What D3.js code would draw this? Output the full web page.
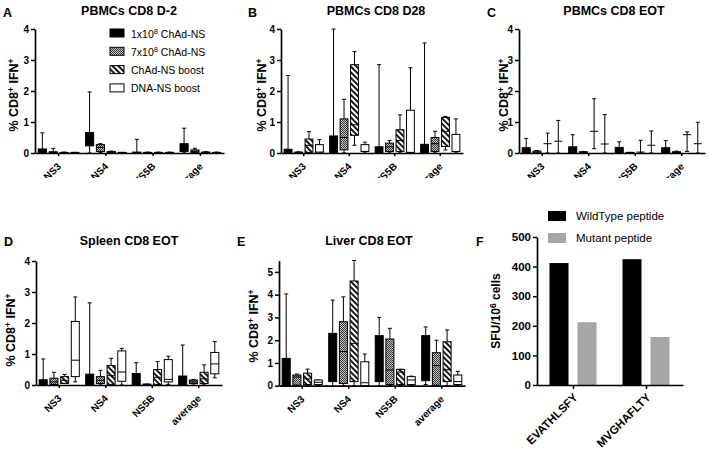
<!DOCTYPE html>
<html><head><meta charset="utf-8">
<script src="https://cdn.jsdelivr.net/npm/d3@7"></script>
<style>
body{margin:0;background:#fff;}
svg{display:block;font-family:"Liberation Sans",Arial,sans-serif;}
</style></head><body>
<svg id="chart" width="709" height="450"></svg>
<script>
// ---------------- DATA ----------------
const groups = ["NS3", "NS4", "NS5B", "average"];
// legend labels: [base, superscript, rest]
const seriesLabels = [["1x10", "8", " ChAd-NS"], ["7x10", "8", " ChAd-NS"], ["ChAd-NS boost", "", ""], ["DNA-NS boost", "", ""]];
// each entry per group: [min, q1, median, q3, max]
const A_low   = [[0,0,0.05,0.13,0.65],[0,0.23,0.45,0.66,1.97],[0,0,0.01,0.03,0.44],[0,0.05,0.15,0.3,0.8]];
const A_high  = [[0,0,0.02,0.04,0.15],[0.02,0.05,0.18,0.27,0.3],[0,0,0.01,0.02,0.03],[0.01,0.02,0.05,0.1,0.15]];
const A_boost = [[0,0,0.01,0.02,0.03],[0,0.01,0.03,0.05,0.06],[0,0,0.01,0.02,0.03],[0,0.01,0.02,0.03,0.04]];
const A_dna   = [[0,0,0.01,0.02,0.02],[0,0,0.01,0.02,0.02],[0,0,0.01,0.02,0.03],[0,0,0.01,0.02,0.03]];

const B_low   = [[0,0,0.05,0.12,2.5],[0,0,0.3,0.55,4.0],[0,0,0.1,0.2,2.85],[0,0,0.1,0.28,3.55]];
const B_high  = [[0,0,0.01,0.03,0.04],[0,0.1,0.5,1.1,1.73],[0,0.05,0.2,0.32,0.4],[0,0.05,0.3,0.5,0.7]];
const B_boost = [[0,0.02,0.25,0.45,0.69],[0.25,0.57,0.91,2.85,3.27],[0,0.05,0.4,0.75,1.23],[0.1,0.21,0.7,1.15,1.18]];
const B_dna   = [[0,0,0.03,0.27,0.43],[0,0.05,0.05,0.27,0.35],[0,0,0.02,1.38,2.75],[0,0.05,0.05,0.6,1.1]];

const C_low   = [[0,0,0.08,0.17,0.47],[0,0,0.1,0.2,0.59],[0,0,0.08,0.18,0.36],[0,0,0.08,0.17,0.4]];
const C_high  = [[0,0,0.03,0.06,0.08],[0,0,0.02,0.04,0.05],[0,0,0.01,0.02,0.02],[0,0,0.02,0.04,0.06]];
const C_boost = [[0,0.3,0.3,0.3,0.64],[0.14,0.7,0.7,0.7,1.75],[0,0.03,0.03,0.03,0.41],[0.05,0.59,0.59,0.59,0.68]];
const C_dna   = [[0,0.38,0.38,0.38,1.05],[0,0.29,0.29,0.29,1.24],[0,0.25,0.25,0.25,0.71],[0,0.3,0.3,0.3,0.99]];

const D_low   = [[0,0,0.08,0.17,0.84],[0,0,0.15,0.35,2.65],[0,0,0.15,0.37,0.72],[0,0,0.1,0.29,1.29]];
const D_high  = [[0,0.02,0.1,0.22,0.41],[0,0.05,0.15,0.27,0.47],[0,0,0.01,0.03,0.03],[0.03,0.05,0.1,0.16,0.18]];
const D_boost = [[0.05,0.05,0.15,0.27,0.34],[0,0.02,0.3,0.63,0.86],[0,0.02,0.25,0.5,0.76],[0,0.05,0.2,0.41,0.65]];
const D_dna   = [[0.1,0.27,0.8,2.05,2.84],[0,0.12,0.42,1.1,1.18],[0.02,0.1,0.18,0.82,0.93],[0.23,0.36,0.68,1.05,1.4]];

const E_low   = [[0,0,0.5,1.2,4.03],[0,0.18,1.0,2.3,3.76],[0,0.18,1.0,2.2,3.0],[0.05,0.22,1.0,2.2,2.58]];
const E_high  = [[0,0.03,0.38,0.47,0.51],[0,0.1,1.5,2.81,3.9],[0,0.05,0.69,2.05,2.52],[0,0.02,0.88,1.45,2.0]];
const E_boost = [[0,0.05,0.3,0.55,0.73],[0,0.18,1.86,4.6,5.5],[0,0.05,0.6,0.72,0.72],[0,0.18,0.7,1.93,2.45]];
const E_dna   = [[0,0.05,0.15,0.25,0.25],[0,0,0.13,1.05,1.39],[0,0.05,0.25,0.4,0.42],[0,0.05,0.18,0.47,0.63]];

const peptides = ["EVATHLSFY", "MVGHAFLTY"];
const peptideSeries = ["WildType peptide", "Mutant peptide"];
const wildType = [412, 425];
const mutant = [212, 162];
const ticks4 = [0, 1, 2, 3, 4];
const ticks5 = [0, 1, 2, 3, 4, 5];
const ticksF = [0, 100, 200, 300, 400, 500];

// ---------------- DRAW ----------------
const svg = d3.select("#chart");
const defs = svg.append("defs");
const pc = defs.append("pattern").attr("id", "check").attr("patternUnits", "userSpaceOnUse").attr("width", 2).attr("height", 2);
pc.append("rect").attr("width", 2).attr("height", 2).attr("fill", "#c4c4c4");
pc.append("rect").attr("width", 1).attr("height", 1).attr("fill", "#3a3a3a");
pc.append("rect").attr("x", 1).attr("y", 1).attr("width", 1).attr("height", 1).attr("fill", "#3a3a3a");
const ph = defs.append("pattern").attr("id", "hatch").attr("patternUnits", "userSpaceOnUse").attr("width", 4).attr("height", 4).attr("patternTransform", "rotate(-45)");
ph.append("rect").attr("width", 4).attr("height", 4).attr("fill", "#fff");
ph.append("line").attr("x1", 1).attr("y1", 0).attr("x2", 1).attr("y2", 4).attr("stroke", "#000").attr("stroke-width", 1.8);

const fills = ["#000", "url(#check)", "url(#hatch)", "#fff"];
const FONT = "Liberation Sans, Arial, sans-serif";

function yLabel(g, x, y, parts) {
  const t = g.append("text").attr("transform", `translate(${x},${y}) rotate(-90)`)
    .attr("text-anchor", "middle").attr("font-weight", "bold").attr("font-size", 12.5).attr("dy", "0.35em");
  parts.forEach(p => {
    const ts = t.append("tspan").text(p[0]);
    if (p[1]) { ts.attr("font-size", 8.5).attr("dy", -4.5); }
    else if (p[2]) { ts.attr("dy", 4.5); }
  });
}

function titles(letter, lx, ly, title, tx, ty) {
  svg.append("text").attr("x", lx).attr("y", ly).attr("font-weight", "bold").attr("font-size", 12.5).text(letter);
  if (title) svg.append("text").attr("x", tx).attr("y", ty).attr("text-anchor", "middle").attr("font-weight", "bold").attr("font-size", 12.5).text(title);
}

let clipId = 0;
function boxPanel(cfg) {
  const g = svg.append("g");
  const x = d3.scaleBand().domain(groups).range([cfg.x0, cfg.x1]);
  const inner = d3.scaleBand().domain(d3.range(4)).range([0, x.bandwidth()]).paddingInner(0.25).paddingOuter(0.3);
  const y = d3.scaleLinear().domain([0, cfg.max]).range([cfg.yBot, cfg.yTop]);
  const bw = inner.bandwidth();
  cfg.data.forEach((arr, si) => {
    arr.forEach((v, gi) => {
      const cx = x(groups[gi]) + inner(si) + bw / 2;
      const [mn, q1, md, q3, mx] = v;
      const bg = g.append("g").attr("stroke", "#000").attr("stroke-width", 1);
      bg.append("line").attr("x1", cx).attr("x2", cx).attr("y1", y(mn)).attr("y2", y(mx));
      bg.append("line").attr("x1", cx - 2).attr("x2", cx + 2).attr("y1", y(mx)).attr("y2", y(mx));
      bg.append("line").attr("x1", cx - 2).attr("x2", cx + 2).attr("y1", y(mn)).attr("y2", y(mn));
      bg.append("rect").attr("x", cx - bw / 2).attr("width", bw).attr("y", y(q3)).attr("height", Math.max(0, y(q1) - y(q3)))
        .attr("fill", fills[si]);
      bg.append("line").attr("x1", cx - bw / 2).attr("x2", cx + bw / 2).attr("y1", y(md)).attr("y2", y(md));
    });
  });
  const ya = g.append("g").attr("transform", `translate(${cfg.x0},0)`)
    .call(d3.axisLeft(y).tickValues(cfg.ticks).tickSize(4).tickSizeOuter(0).tickFormat(d3.format("d")));
  const xa = g.append("g").attr("transform", `translate(0,${cfg.yBot})`)
    .call(d3.axisBottom(x).tickSize(3).tickSizeOuter(0));
  [ya, xa].forEach(a => {
    a.select(".domain").attr("stroke-width", 1.7);
    a.selectAll(".tick line").attr("stroke-width", 1.5);
    a.selectAll("text").attr("font-weight", "bold").attr("font-size", 10).attr("font-family", FONT).attr("fill", "#000");
  });
  ya.selectAll(".tick text").attr("x", -6);
  xa.selectAll(".tick text").attr("text-anchor", "end").attr("x", 0).attr("y", 0).attr("dy", 0)
    .attr("transform", "translate(3,14) rotate(-45)");
  if (cfg.clipY) {
    const id = "clip" + (clipId++);
    defs.append("clipPath").attr("id", id).append("rect")
      .attr("x", cfg.x0 - 60).attr("y", -10).attr("width", 320).attr("height", cfg.clipY - cfg.yBot + 10);
    xa.attr("clip-path", `url(#${id})`);
  }
  yLabel(svg, cfg.labX, cfg.labY, [["% CD8"], ["+", 1], [" IFN", 0, 1], ["+", 1]]);
  return { x, y };
}

titles("A", 3, 17, "PBMCs CD8 D-2", 129, 15);
boxPanel({ data: [A_low, A_high, A_boost, A_dna], x0: 35, x1: 224, yTop: 29, yBot: 153, max: 4, ticks: ticks4, clipY: 178, labX: 14, labY: 95 });
titles("B", 248, 17, "PBMCs CD8 D28", 376, 15);
boxPanel({ data: [B_low, B_high, B_boost, B_dna], x0: 281, x1: 463, yTop: 29, yBot: 153, max: 4, ticks: ticks4, clipY: 178, labX: 262, labY: 95 });
titles("C", 487, 17, "PBMCs CD8 EOT", 614, 15);
boxPanel({ data: [C_low, C_high, C_boost, C_dna], x0: 519, x1: 705, yTop: 29, yBot: 153, max: 4, ticks: ticks4, clipY: 178, labX: 504, labY: 95 });
titles("D", 4, 246, "Spleen CD8 EOT", 129, 245);
boxPanel({ data: [D_low, D_high, D_boost, D_dna], x0: 36, x1: 222, yTop: 261, yBot: 385, max: 4, ticks: ticks4, labX: 11, labY: 330 });
titles("E", 237, 246, "Liver CD8 EOT", 369, 245);
boxPanel({ data: [E_low, E_high, E_boost, E_dna], x0: 279, x1: 465, yTop: 260.5, yBot: 385.7, max: 5.5, ticks: ticks5, labX: 254, labY: 326 });

// legend A
const lg = svg.append("g");
seriesLabels.forEach((s, i) => {
  const yy = 29 + i * 18.3;
  lg.append("rect").attr("x", 110).attr("y", yy).attr("width", 14).attr("height", 8).attr("fill", fills[i]).attr("stroke", "#000").attr("stroke-width", 1);
  const t = lg.append("text").attr("x", 131).attr("y", yy + 8.5).attr("font-size", 10.5);
  t.append("tspan").text(s[0]);
  if (s[1]) { t.append("tspan").attr("font-size", 7.5).attr("dy", -4).text(s[1]); t.append("tspan").attr("dy", 4).text(s[2]); }
});

// panel F
titles("F", 476, 246, "", 0, 0);
const fx = d3.scaleBand().domain(peptides).range([537, 683]);
const fy = d3.scaleLinear().domain([0, 500]).range([385, 237]);
const fg = svg.append("g");
const fColors = ["#000", "#a6a6a6"];
[wildType, mutant].forEach((vals, si) => {
  fg.selectAll(null).data(vals).enter().append("rect")
    .attr("x", (d, i) => fx(peptides[i]) + fx.bandwidth() / 2 + (si === 0 ? -24 : 4))
    .attr("width", 19)
    .attr("y", d => fy(d)).attr("height", d => fy(0) - fy(d))
    .attr("fill", fColors[si]);
});
const fya = fg.append("g").attr("transform", "translate(537,0)").call(d3.axisLeft(fy).tickValues(ticksF).tickSize(4).tickSizeOuter(0));
const fxa = fg.append("g").attr("transform", "translate(0,385)").call(d3.axisBottom(fx).tickSize(4).tickSizeOuter(0));
[fya, fxa].forEach(a => {
  a.select(".domain").attr("stroke-width", 1.7);
  a.selectAll(".tick line").attr("stroke-width", 1.5);
  a.selectAll("text").attr("font-weight", "bold").attr("font-size", 11.5).attr("font-family", FONT).attr("fill", "#000");
});
fya.selectAll(".tick text").attr("x", -6);
fxa.selectAll(".tick text").attr("text-anchor", "end").attr("x", 0).attr("y", 0).attr("dy", 0)
  .attr("transform", "translate(5,13) rotate(-45)");
const ft = svg.append("text").attr("transform", "translate(496,311) rotate(-90)").attr("text-anchor", "middle")
  .attr("font-weight", "bold").attr("font-size", 12).attr("dy", "0.35em");
ft.append("tspan").text("SFU/10");
ft.append("tspan").attr("font-size", 8.5).attr("dy", -4.5).text("6");
ft.append("tspan").attr("dy", 4.5).text(" cells");
peptideSeries.forEach((s, i) => {
  svg.append("rect").attr("x", 548).attr("y", 211 + i * 22).attr("width", 18).attr("height", 10).attr("fill", fColors[i]);
  svg.append("text").attr("x", 576).attr("y", 220 + i * 22).attr("font-size", 11.5).text(s);
});
</script>
</body></html>
